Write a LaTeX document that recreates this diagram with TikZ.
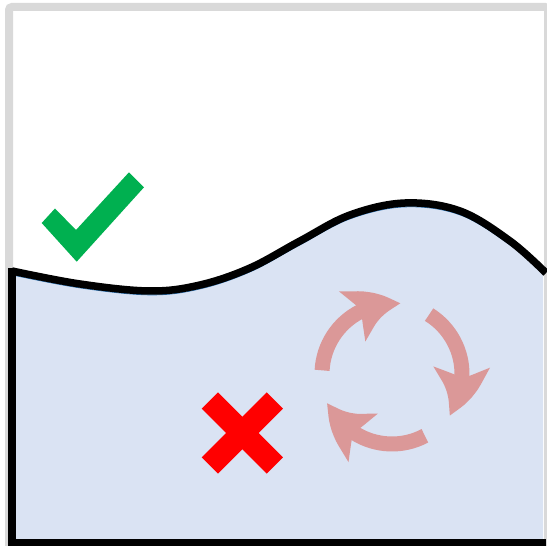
\documentclass[tikz,border=0pt]{standalone}
\usepackage{tikz}
\usetikzlibrary{arrows.meta, bending, calc}
\usepackage{xcolor}
\definecolor{framegray}{RGB}{217,217,217}
\definecolor{lightblue}{RGB}{218,227,243}
\definecolor{edgeblue}{RGB}{46,117,182}
\definecolor{okgreen}{RGB}{0,176,80}
\definecolor{badred}{RGB}{255,0,0}
\definecolor{cyclepink}{RGB}{219,152,152}

\begin{document}
\begin{tikzpicture}[
    x=1pt, y=1pt,
    framebox/.style={draw=framegray, line width=8pt, rounded corners=3pt},
    wallline/.style={draw=black, line width=7.5pt, line join=miter},
    surfline/.style={draw=black, line width=7.5pt},
    crossarm/.style={draw=badred, line width=23pt, line cap=butt},
    cyclearrow/.style={draw=cyclepink, line width=15pt,
                       -{Stealth[length=50pt, width=54pt, inset=10pt, bend]}}
]
\useasboundingbox (0,0) rectangle (546,546);
%% Outer frame
\draw[framebox] (9,-6) rectangle (548,539);
%% Liquid region
\fill[lightblue] (12,3) -- plot[smooth, tension=0.6] coordinates
    {(12,275) (80,262) (150,255) (200,261) (250,278) (300,305)
     (350,331) (405,343) (460,335) (510,305) (543,276)}
    -- (543,3) -- cycle;
\draw[edgeblue, line width=0.8pt, yshift=-3.9pt] plot[smooth, tension=0.6] coordinates
    {(12,275) (80,262) (150,255) (200,261) (250,278) (300,305)
     (350,331) (405,343) (460,335) (510,305) (543,276)};
\draw[surfline] plot[smooth, tension=0.6] coordinates
    {(12,275) (80,262) (150,255) (200,261) (250,278) (300,305)
     (350,331) (405,343) (460,335) (510,305) (546,273)};
\draw[wallline] (546,3) -- (12,3) -- (12,278);
%% Check mark
\fill[okgreen] (41.7,323) -- (55,337.5) -- (76,316) -- (129,373.7)
    -- (144,358.7) -- (76.7,284.3) -- cycle;
%% Cross
\coordinate (crossc) at (242.3,113);
\draw[crossarm] ($(crossc)+(-32.5,32.5)$) -- ($(crossc)+(32.5,-32.5)$);
\draw[crossarm] ($(crossc)+(-32.5,-32.5)$) -- ($(crossc)+(32.5,32.5)$);
%% Circulation arrows
\coordinate (cyclec) at (392,172);
\foreach \a in {177, 58, -62} {
    \draw[cyclearrow] ($(cyclec)+(\a:70)$) arc[start angle=\a, delta angle=-94, radius=70];
}
\end{tikzpicture}
\end{document}
